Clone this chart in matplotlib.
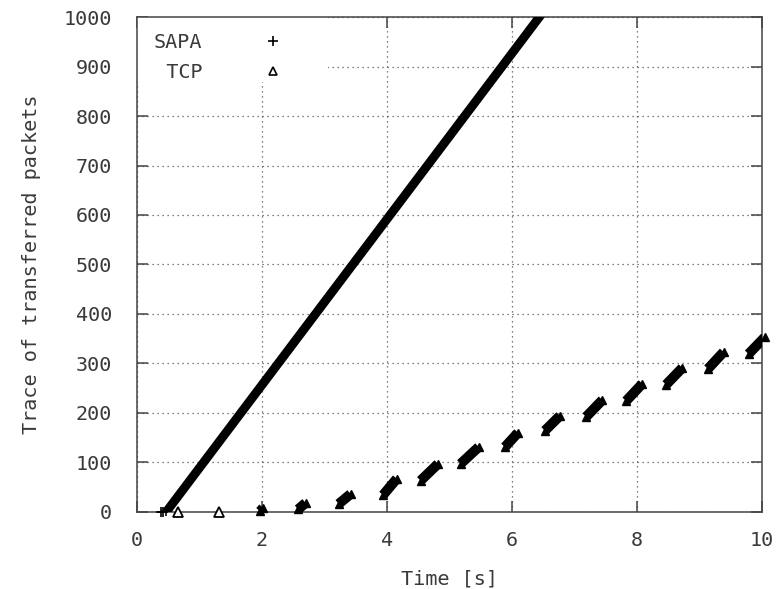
import matplotlib
matplotlib.use("Agg")
import matplotlib.pyplot as plt
from matplotlib.lines import Line2D
from matplotlib.patches import Rectangle

# SAPA trace: key points (time [s], packet number)
sapa_start_t = [0.38, 0.42, 0.46]
sapa_start_p = [0, 0, 1]
sapa_t = [0.47, 6.62]
sapa_p = [0, 1030]

# TCP bursts: start / end of each slanted burst
tcp_t0 = [0.65, 1.31, 1.97, 2.58, 3.23, 3.94, 4.54, 5.18, 5.89, 6.53, 7.19, 7.83, 8.47, 9.14, 9.79]
tcp_p0 = [0, 0, 1, 5, 16, 34, 63, 97, 131, 164, 192, 224, 257, 289, 319]
tcp_t1 = [0.65, 1.31, 2.02, 2.70, 3.42, 4.16, 4.82, 5.47, 6.10, 6.77, 7.45, 8.09, 8.73, 9.39, 10.05]
tcp_p1 = [0, 0, 8, 18, 36, 67, 97, 131, 160, 194, 226, 259, 291, 323, 353]

xticks = [0, 2, 4, 6, 8, 10]
yticks = [0, 100, 200, 300, 400, 500, 600, 700, 800, 900, 1000]

plt.rcParams['font.family'] = ['DejaVu Sans Mono']
txtcol = '#3a3a3a'

fig = plt.figure(figsize=(7.78, 5.89), dpi=100)
ax = fig.add_axes([0.176, 0.131, 0.803, 0.840])

# grid
ax.grid(True, color='#555555', linestyle=(0, (1, 3)), linewidth=0.9)
ax.set_axisbelow(True)

# white area behind the key (hides the grid there)
ax.add_patch(Rectangle((0, 0.868), 0.306, 0.132, transform=ax.transAxes,
                       facecolor='white', edgecolor='none', zorder=1))

# SAPA
ax.plot(sapa_t, sapa_p, color='black', linewidth=6.4, solid_capstyle='butt', zorder=3)
ax.plot(sapa_start_t, sapa_start_p, linestyle='none', marker='+', color='black',
        markersize=7, markeredgewidth=1.2, zorder=3, clip_on=False)

# TCP bursts
for a, b, c, d in zip(tcp_t0, tcp_p0, tcp_t1, tcp_p1):
    if c - a > 0.01:
        ax.plot([a, c], [b, d], color='black', linewidth=7.2, solid_capstyle='butt', zorder=3)
        ax.plot([a, c], [b, d], linestyle='none', marker='^', markersize=5.5,
                color='black', markeredgewidth=1.0, zorder=4, clip_on=False)
    else:
        ax.plot([a], [b], linestyle='none', marker='^', markersize=7,
                markerfacecolor='white', markeredgecolor='black', markeredgewidth=1.3,
                zorder=4, clip_on=False)

ax.set_xlim(0, 10)
ax.set_ylim(0, 1000)
ax.set_xticks(xticks)
ax.set_yticks(yticks)

for s in ax.spines.values():
    s.set_color('#444444')
    s.set_linewidth(1.1)
ax.tick_params(direction='in', length=8, width=1.1, color='#444444',
               top=True, right=True, labelsize=14.5, labelcolor=txtcol)
ax.tick_params(axis='y', pad=18)
ax.tick_params(axis='x', pad=14)

ax.set_xlabel('Time [s]', fontsize=14.5, color=txtcol, labelpad=14)
ax.set_ylabel('Trace of transferred packets', fontsize=14.5, color=txtcol, labelpad=16)

handles = [
    Line2D([], [], linestyle='none', marker='+', color='black', markersize=7, markeredgewidth=1.2),
    Line2D([], [], linestyle='none', marker='^', markersize=6, markerfacecolor='white',
           markeredgecolor='black', markeredgewidth=1.2),
]
leg = ax.legend(handles, ['SAPA', '  TCP'], loc='upper left', bbox_to_anchor=(-0.018, 1.0),
                markerfirst=False, frameon=False, fontsize=14.5,
                handlelength=1.0, handletextpad=3.0, labelspacing=0.55,
                borderpad=0.8, borderaxespad=0.0, labelcolor=txtcol)
leg.set_zorder(5)

fig.savefig('out.png', dpi=100)
